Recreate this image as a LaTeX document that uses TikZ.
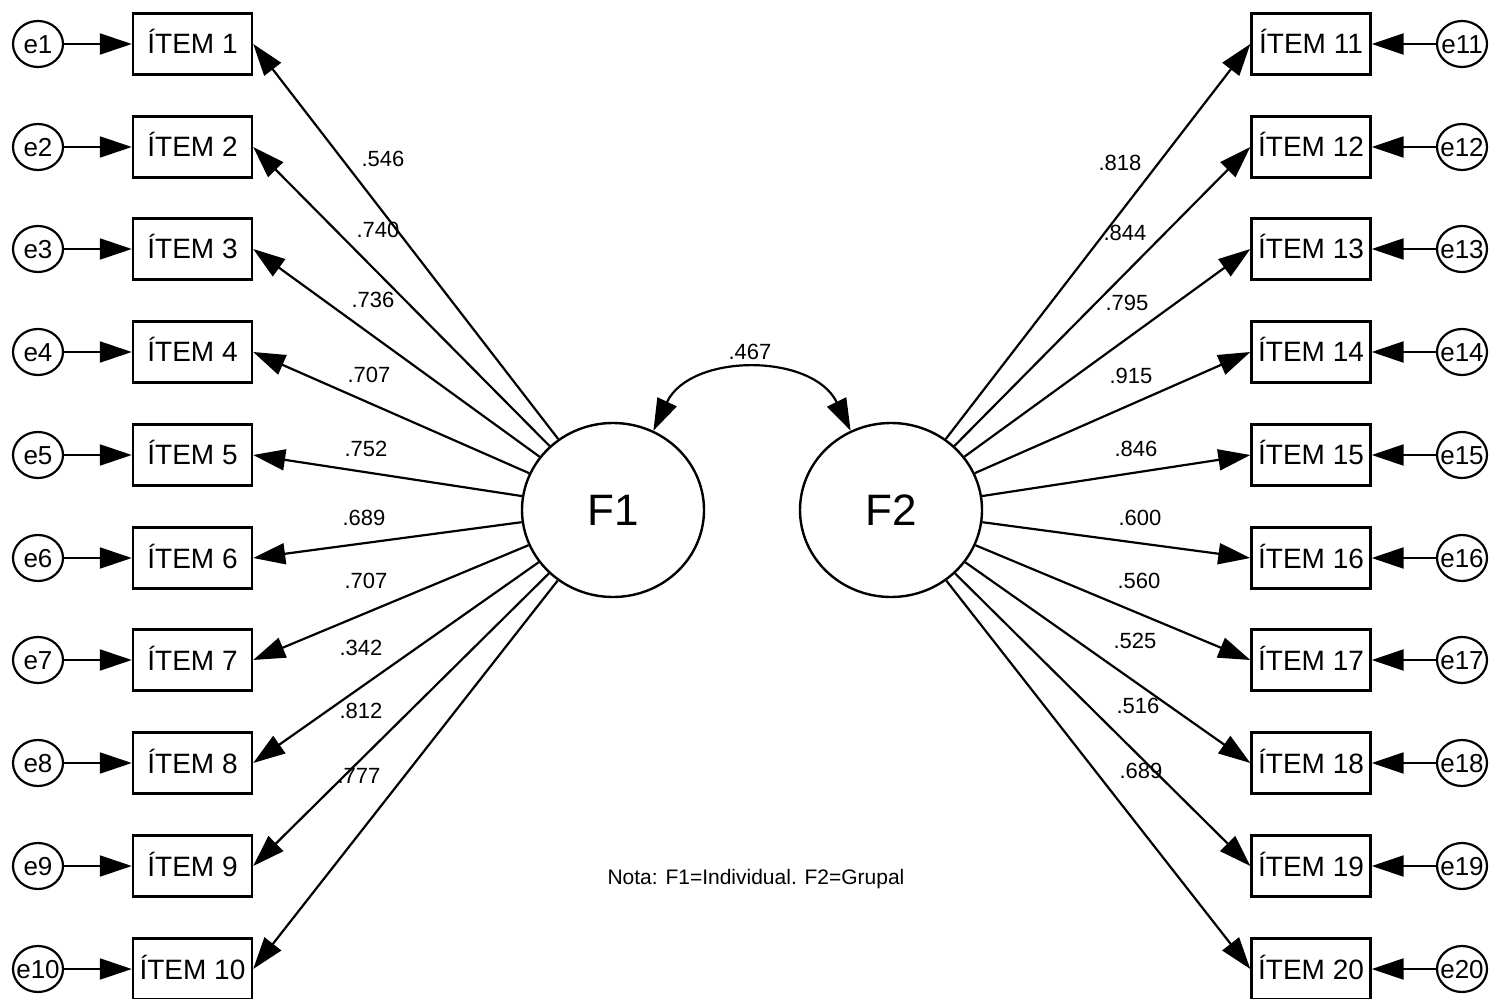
\documentclass[tikz,border=0pt]{standalone}
\usepackage{fontspec}
\setmainfont{Liberation Sans}
\usetikzlibrary{arrows.meta,shapes.geometric}

\begin{document}
\begin{tikzpicture}[
		x=0.5pt, y=-0.5pt,
		item/.style={draw, line width=1.2pt, minimum width=59.5pt, minimum height=30.5pt, inner sep=0pt, text height=10pt, text depth=0pt, font=\fontsize{14}{14}\selectfont},
		err/.style={ellipse, draw, line width=1.1pt, minimum width=25pt, minimum height=23pt, inner sep=0pt, text height=9.3pt, text depth=0pt, font=\fontsize{13}{13}\selectfont},
		factor/.style={ellipse, draw, line width=1.2pt, minimum width=91pt, minimum height=87pt, inner sep=0pt, font=\fontsize{22}{22}\selectfont},
		load/.style={inner sep=0pt, font=\fontsize{11}{11}\selectfont},
		conn/.style={line width=1.1pt, -{Triangle[length=16pt,width=10.5pt]}}
	]
	\useasboundingbox (0,0) rectangle (1497,999);
	\node[factor] (f1) at (613,510) {F1};
	\node[factor] (f2) at (891,510) {F2};
	% left side
	\foreach \i/\y in {1/44,2/147,3/249,4/352,5/455,6/558,7/660,8/763,9/866,10/969} {
		\node[item] (i\i) at (192.5,\y) {ÍTEM \i};
		\node[err] (e\i) at (38,\y) {\makebox[0pt]{e\i}};
		\draw[conn] (e\i) -- (i\i);
	}
	% right side
	\foreach \i/\y in {11/44,12/147,13/249,14/352,15/455,16/558,17/660,18/763,19/866,20/969} {
		\node[item] (i\i) at (1311,\y) {ÍTEM \i};
		\node[err] (e\i) at (1462,\y) {\makebox[0pt]{e\i}};
		\draw[conn] (e\i) -- (i\i);
	}
	% loadings
	\foreach \i/\v/\lx/\ly in {1/.546/383/159, 2/.740/378/230, 3/.736/373/300, 4/.707/369/375, 5/.752/366/449, 6/.689/364/518, 7/.707/366/581, 8/.342/361/648, 9/.812/361/711, 10/.777/359/776} {
		\draw[conn] (f1) -- (i\i.east);
		\node[load] (l\i) at (\lx,\ly) {\v};
	}
	\foreach \i/\v/\lx/\ly in {11/.818/1120/163, 12/.844/1125/233, 13/.795/1127/303, 14/.915/1131/376, 15/.846/1136/449, 16/.600/1140/518, 17/.560/1139/581, 18/.525/1135/641, 19/.516/1138/706, 20/.689/1141/771} {
		\draw[conn] (f2) -- (i\i.west);
		\node[load] (l\i) at (\lx,\ly) {\v};
	}
	% covariance
	\draw[line width=1.1pt, {Triangle[length=16pt,width=10.5pt]}-{Triangle[length=16pt,width=10.5pt]}]
		(f1.63) .. controls +(37,-78) and +(-38,-78) .. (f2.117);
	\node[load] (cov) at (750,352) {.467};
	\node[inner sep=0pt, font=\fontsize{10.5}{10.5}\selectfont] (nota) at (756,879) {Nota: F1=Individual. F2=Grupal};
\end{tikzpicture}
\end{document}
